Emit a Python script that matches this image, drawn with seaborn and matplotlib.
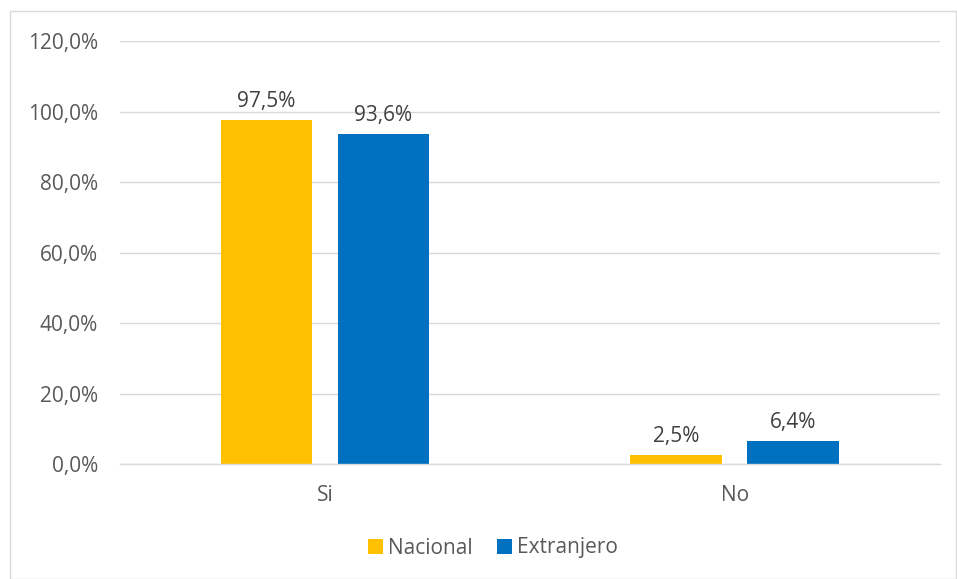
import matplotlib
matplotlib.use("Agg")
import matplotlib.pyplot as plt
import seaborn as sns
import pandas as pd
from matplotlib.patches import Rectangle
from matplotlib.ticker import FuncFormatter

categories = ["Si", "No"]
series = ["Nacional", "Extranjero"]
nacional = [97.5, 2.5]
extranjero = [93.6, 6.4]
colors = ["#FFC000", "#0070C0"]

df = pd.DataFrame({
    "cat": categories * 2,
    "serie": [series[0]] * 2 + [series[1]] * 2,
    "val": nacional + extranjero,
})

sns.set_theme(style="white")
plt.rcParams["font.family"] = ["Open Sans", "DejaVu Sans"]
txt = "#595959"
fs = 15

fig = plt.figure(figsize=(9.57, 5.79), dpi=100)
ax = fig.add_axes([0.1254, 0.1986, 0.982 - 0.1254, 0.929 - 0.1986])
sns.barplot(data=df, x="cat", y="val", hue="serie", palette=colors,
            width=0.571, gap=0.215, ax=ax, order=categories, hue_order=series,
            saturation=1, legend=True, linewidth=0)

ax.set_ylim(0, 120)
ax.set_xlim(-0.5, 1.5)
ax.set_yticks(range(0, 121, 20))
ax.yaxis.set_major_formatter(FuncFormatter(lambda v, p: f"{v:.1f}%".replace(".", ",")))
ax.grid(axis="y", color="#D9D9D9", linewidth=1)
ax.set_axisbelow(True)
for s in ["top", "right", "left"]:
    ax.spines[s].set_visible(False)
ax.spines["bottom"].set_color("#D9D9D9")
ax.spines["bottom"].set_linewidth(1)
ax.tick_params(axis="both", length=0, labelsize=fs, colors=txt)
ax.tick_params(axis="y", pad=16)
ax.tick_params(axis="x", pad=15)
ax.set_xlabel("")
ax.set_ylabel("")

for cont in ax.containers:
    ax.bar_label(cont, labels=[f"{v:.1f}%".replace(".", ",") for v in cont.datavalues],
                 padding=6, fontsize=fs, color="#404040")

leg = ax.legend(loc="center", bbox_to_anchor=(493 / 957, 1 - 548 / 579),
                bbox_transform=fig.transFigure, ncol=2, frameon=False,
                fontsize=fs, handlelength=0.7, handleheight=0.7,
                handletextpad=0.25, columnspacing=1.2)
for t in leg.get_texts():
    t.set_color(txt)

fig.patches.append(Rectangle((10 / 957, 0.5 / 579), 946 / 957, 1 - 11.5 / 579,
                             transform=fig.transFigure, fill=False,
                             edgecolor="#D9D9D9", linewidth=1))

fig.savefig("out.png", dpi=100, facecolor="white")
